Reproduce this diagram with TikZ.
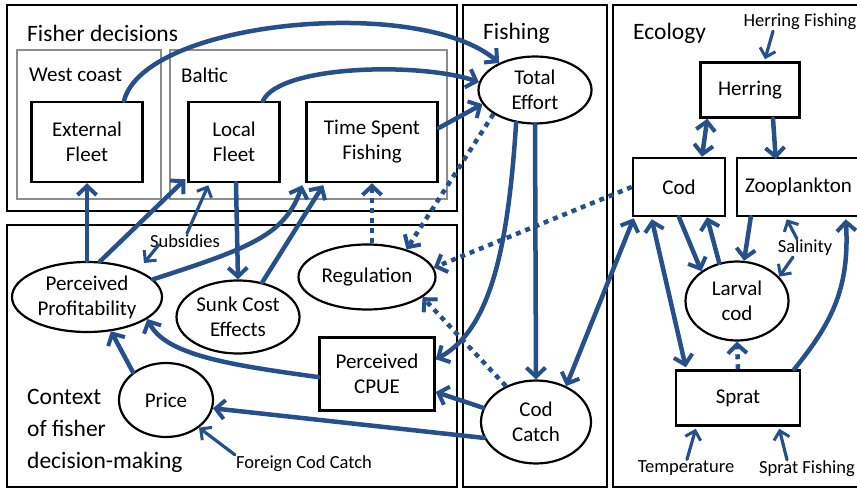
\documentclass[tikz,border=0pt]{standalone}
\usepackage{fontspec}
\setmainfont{Carlito}
\usetikzlibrary{arrows.meta,shapes.geometric,calc}
\definecolor{arrblue}{RGB}{37,80,140}
\definecolor{framegray}{RGB}{140,140,140}
\tikzset{
  nodefont/.style={font=\fontsize{21}{25}\selectfont},
  titlefont/.style={font=\fontsize{23.5}{32}\selectfont},
  lblfont/.style={font=\fontsize{18.5}{22}\selectfont},
  bx/.style={draw=black, line width=2.5pt, inner sep=0pt, align=center, nodefont},
  el/.style={draw=black, ellipse, line width=2.2pt, inner sep=0pt, align=center, nodefont},
  lbl/.style={inner sep=1pt, lblfont},
  ttl/.style={inner sep=0pt, anchor=west, titlefont, align=left},
  outer/.style={draw=black, line width=2pt},
  inner/.style={draw=framegray, line width=2pt},
  arr/.style={draw=arrblue, line width=4.5pt, line cap=round,
    -{Straight Barb[length=9pt,width=19pt,line width=4pt]}},
  darr/.style={arr, {Straight Barb[length=9pt,width=19pt,line width=4pt]}-{Straight Barb[length=9pt,width=19pt,line width=4pt]}},
  sarr/.style={draw=arrblue, line width=3.2pt, line cap=round,
    -{Straight Barb[length=8pt,width=16pt,line width=3pt]}},
  dotarr/.style={arr, line cap=butt, dash pattern=on 5pt off 5pt},
}
\begin{document}
\begin{tikzpicture}[x=1pt,y=-1pt]
\useasboundingbox (0,0) rectangle (857,489);
\fill[white] (0,0) rectangle (857,489);
% frames
\draw[outer] (7,5) rectangle (457,211);
\draw[outer] (7,225) rectangle (457,487);
\draw[outer] (463,5) rectangle (607,487);
\draw[outer] (613,5) rectangle (870,487);
\draw[inner] (17,50) rectangle (161,199);
\draw[inner] (170,50) rectangle (447,199);
% titles
\node[ttl] (tfd) at (27,33) {Fisher decisions};
\node[ttl, nodefont] (twc) at (29,75) {West coast};
\node[ttl, nodefont] (tba) at (181,75) {Baltic};
\node[ttl] (tfi) at (483,33) {Fishing};
\node[ttl] (tec) at (633,33) {Ecology};
\node[ttl] (tcx) at (27,431) {Context\\of fisher\\decision-making};
% nodes
\node[bx, minimum width=111, minimum height=80] (ext) at (87,142) {External\\Fleet};
\node[bx, minimum width=91, minimum height=80] (loc) at (234,142) {Local\\Fleet};
\node[bx, minimum width=131, minimum height=80] (tsf) at (372,142) {Time Spent\\Fishing};
\node[el, minimum width=113, minimum height=67] (te) at (535,90) {Total\\Effort};
\node[el, minimum width=110, minimum height=83] (cc) at (536,422) {Cod\\Catch};
\node[bx, minimum width=99, minimum height=55] (her) at (750,90) {Herring};
\node[bx, minimum width=92, minimum height=58] (cod) at (679,187) {Cod};
\node[bx, minimum width=124, minimum height=58, text width=118, align=left] (zoo) at (799,187) {\hspace*{5pt}Zooplankton};
\node[el, minimum width=103, minimum height=79] (lar) at (737,301) {Larval\\cod};
\node[bx, minimum width=124, minimum height=55] (spr) at (738,398) {Sprat};
\node[el, minimum width=150, minimum height=70] (pp) at (87,297) {Perceived\\Profitability};
\node[el, minimum width=123, minimum height=73] (sce) at (238,317) {Sunk Cost\\Effects};
\node[el, minimum width=137, minimum height=65] (reg) at (367,277) {Regulation};
\node[bx, minimum width=115, minimum height=73] (cpue) at (377,374) {Perceived\\CPUE};
\node[el, minimum width=94, minimum height=74] (pri) at (166,400) {Price};
% labels
\node[lbl] (subs) at (185,241) {Subsidies};
\node[lbl] (fcc) at (304,464) {Foreign Cod Catch};
\node[lbl] (hf) at (800,22) {Herring Fishing};
\node[lbl] (sal) at (805,248) {Salinity};
\node[lbl] (tmp) at (686,468) {Temperature};
\node[lbl] (sf) at (807,469) {Sprat Fishing};
% fishing connectors
\draw[arr] ($(ext.north)+(37,0)$) .. controls (145,20) and (420,-5) .. (te.143);
\draw[arr] ($(loc.north)+(29,0)$) .. controls (280,65) and (420,62) .. (te.172);
\draw[arr] ($(tsf.east)+(0,-14)$) -- (te.195);
\draw[dotarr] (te.210) -- (reg.35);
\draw[dotarr] (tsf.south |- reg.north) -- (tsf.south);
\draw[dotarr] (cod.west) -- (reg.8);
\draw[dotarr] (cc.130) -- (reg.-20);
\draw[arr] (te.south) -- (cc.north);
\draw[arr] (te.240) .. controls (508,250) and (490,330) .. (cpue.14);
\draw[arr] (cc.165) -- (cpue.-17);
\draw[arr] (cc.197) -- (pri.-10);
\draw[darr] ($(cod.south west)+(2,1)$) -- (cc.50);
% ecology connectors
\draw[darr] ($(her.south west)+(8,0)$) -- ($(cod.north)+(23,0)$);
\draw[arr] ($(her.south)+(23,0)$) -- ($(zoo.south west)+(40,-58)$);
\draw[sarr] ($(hf.south)+(-27,0)$) -- ($(her.north)+(15,-2)$);
\draw[arr] (cod.south) -- (lar.140);
\draw[arr] (lar.115) -- ($(cod.south)+(28,0)$);
\draw[arr] ($(zoo.south west)+(15,0)$) -- (lar.80);
\draw[sarr] ($(sal.north)+(-8,0)$) -- ($(zoo.south west)+(51,2)$);
\draw[sarr] ($(sal.south)+(-12,0)$) -- (lar.30);
\draw[darr] ($(cod.south west)+(20,2)$) -- ($(spr.north west)+(11,-2)$);
\draw[dotarr] (spr.north) -- (lar.south);
\draw[arr] ($(spr.north east)+(-7,0)$) .. controls (830,325) and (850,290) .. ($(zoo.south west)+(110,2)$);
\draw[sarr] ($(tmp.north)+(1,0)$) -- ($(spr.south west)+(21,2)$);
\draw[sarr] ($(sf.north)+(-20,0)$) -- ($(spr.south east)+(-22,2)$);
% context connectors
\draw[arr] (pp.north) -- (ext.south);
\draw[arr] (pp.70) -- ($(loc.south west)+(-2,-4)$);
\draw[sarr] ($(subs.north)+(2,0)$) -- ($(loc.south west)+(21,2)$);
\draw[sarr] ($(subs.south west)+(10,-4)$) -- ($(pp.center)+(57,-34)$);
\draw[arr] ($(loc.south)+(2,0)$) -- (sce.north);
\draw[arr] (pp.15) .. controls (250,248) and (285,235) .. ($(tsf.south west)+(-3,2)$);
\draw[arr] (sce.55) -- ($(tsf.south west)+(18,2)$);
\draw[arr] (cpue.183) .. controls (230,365) and (165,355) .. (pp.-20);
\draw[arr] (pri.140) -- (pp.-55);
\draw[sarr] (fcc.north west) -- (pri.-40);
\end{tikzpicture}
\end{document}
